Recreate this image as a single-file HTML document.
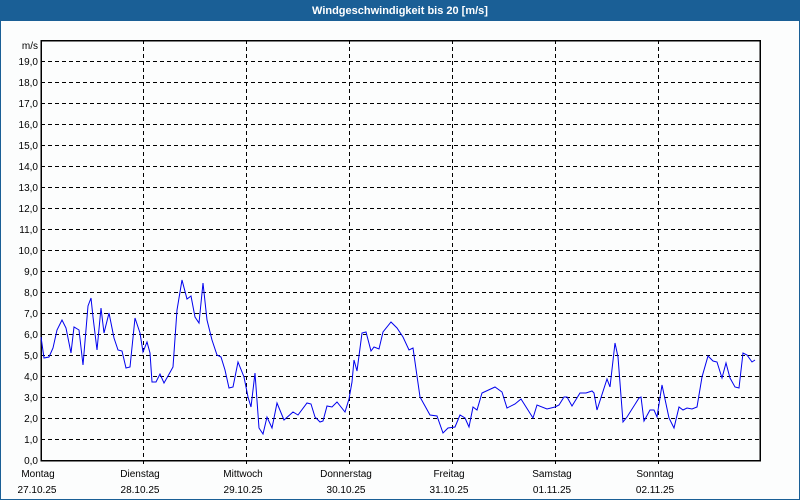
<!DOCTYPE html>
<html><head><meta charset="utf-8"><style>
html,body{margin:0;padding:0;width:800px;height:500px;overflow:hidden;background:#fff}
svg{display:block}
text{font-family:"Liberation Sans",sans-serif;font-size:10px;fill:#000}
</style></head><body>
<svg width="800" height="500" xmlns="http://www.w3.org/2000/svg">
<rect x="0" y="0" width="800" height="500" fill="#1a5f96"/>
<rect x="1" y="21" width="798" height="478" fill="#fcfdfd"/>
<text x="400" y="14" text-anchor="middle" style="font-weight:bold;font-size:11px;fill:#fff">Windgeschwindigkeit bis 20 [m/s]</text>
<g stroke="#000" stroke-width="1" stroke-dasharray="4,3" shape-rendering="crispEdges">
<path d="M41 439.5H760M41 418.5H760M41 397.5H760M41 376.5H760M41 355.5H760M41 334.5H760M41 313.5H760M41 292.5H760M41 271.5H760M41 250.5H760M41 229.5H760M41 208.5H760M41 187.5H760M41 166.5H760M41 145.5H760M41 124.5H760M41 103.5H760M41 82.5H760M41 61.5H760"/>
<path d="M143.5 40V466M246.5 40V466M349.5 40V466M452.5 40V466M555.5 40V466M658.5 40V466"/>
</g>
<rect x="41" y="40.5" width="719" height="420" fill="none" stroke="#000" stroke-width="1.5" shape-rendering="crispEdges"/>
<g text-anchor="end">
<text x="38" y="49">m/s</text>
<text x="38" y="65">19,0</text><text x="38" y="86">18,0</text><text x="38" y="107">17,0</text><text x="38" y="128">16,0</text><text x="38" y="149">15,0</text><text x="38" y="170">14,0</text><text x="38" y="191">13,0</text><text x="38" y="212">12,0</text><text x="38" y="233">11,0</text><text x="38" y="254">10,0</text><text x="38" y="275">9,0</text><text x="38" y="296">8,0</text><text x="38" y="317">7,0</text><text x="38" y="338">6,0</text><text x="38" y="359">5,0</text><text x="38" y="380">4,0</text><text x="38" y="401">3,0</text><text x="38" y="422">2,0</text><text x="38" y="443">1,0</text><text x="38" y="464">0,0</text>
</g>
<g text-anchor="middle">
<text x="38" y="477">Montag</text><text x="37" y="493">27.10.25</text>
<text x="140" y="477">Dienstag</text><text x="140" y="493">28.10.25</text>
<text x="243" y="477">Mittwoch</text><text x="243" y="493">29.10.25</text>
<text x="346" y="477">Donnerstag</text><text x="346" y="493">30.10.25</text>
<text x="449" y="477">Freitag</text><text x="449" y="493">31.10.25</text>
<text x="552" y="477">Samstag</text><text x="552" y="493">01.11.25</text>
<text x="655" y="477">Sonntag</text><text x="655" y="493">02.11.25</text>
</g>
<polyline fill="none" stroke="#0000ee" stroke-width="1" points="41,337 44,358 49,357 53,348 57,330 62,320 66,328 71,353 74,327 79,330 83,365 88,306 91,298 93,317 97,350 101,308 104,333 109,313 114,338 118,350 122,351 126,368 130,367 135,318 140,333 143,352 147,342 150,353 152,382 156,382 160,374 164,383 168,376 173,367 177,310 182,280 187,299 191,296 195,317 199,323 203,283 207,320 212,340 217,355 221,357 225,370 229,388 233,387 238,362 244,377 248,397 251,407 255,373 259,428 263,434 267,417 272,428 277,403 284,420 293,412 298,415 307,403 311,404 315,417 320,422 323,421 327,406 332,407 337,402 345,412 349,399 352,382 354,360 357,371 362,333 366,332 371,351 374,347 379,349 383,332 391,322 397,328 403,337 409,350 413,348 420,397 430,415 437,416 443,433 448,428 455,427 460,415 465,418 469,427 473,407 477,410 482,393 495,387 502,392 507,408 515,404 521,399 533,418 537,405 547,409 555,407 559,405 564,397 567,397 572,406 580,393 586,393 592,391 594,393 597,410 607,379 610,387 615,343 618,357 623,422 627,417 639,398 641,397 644,421 650,410 654,410 657,417 662,385 669,418 674,428 679,407 683,410 687,408 692,409 697,407 702,377 708,356 713,361 717,362 722,378 726,363 730,378 735,387 739,388 743,353 747,355 752,362 755,360"/>
</svg>
</body></html>
